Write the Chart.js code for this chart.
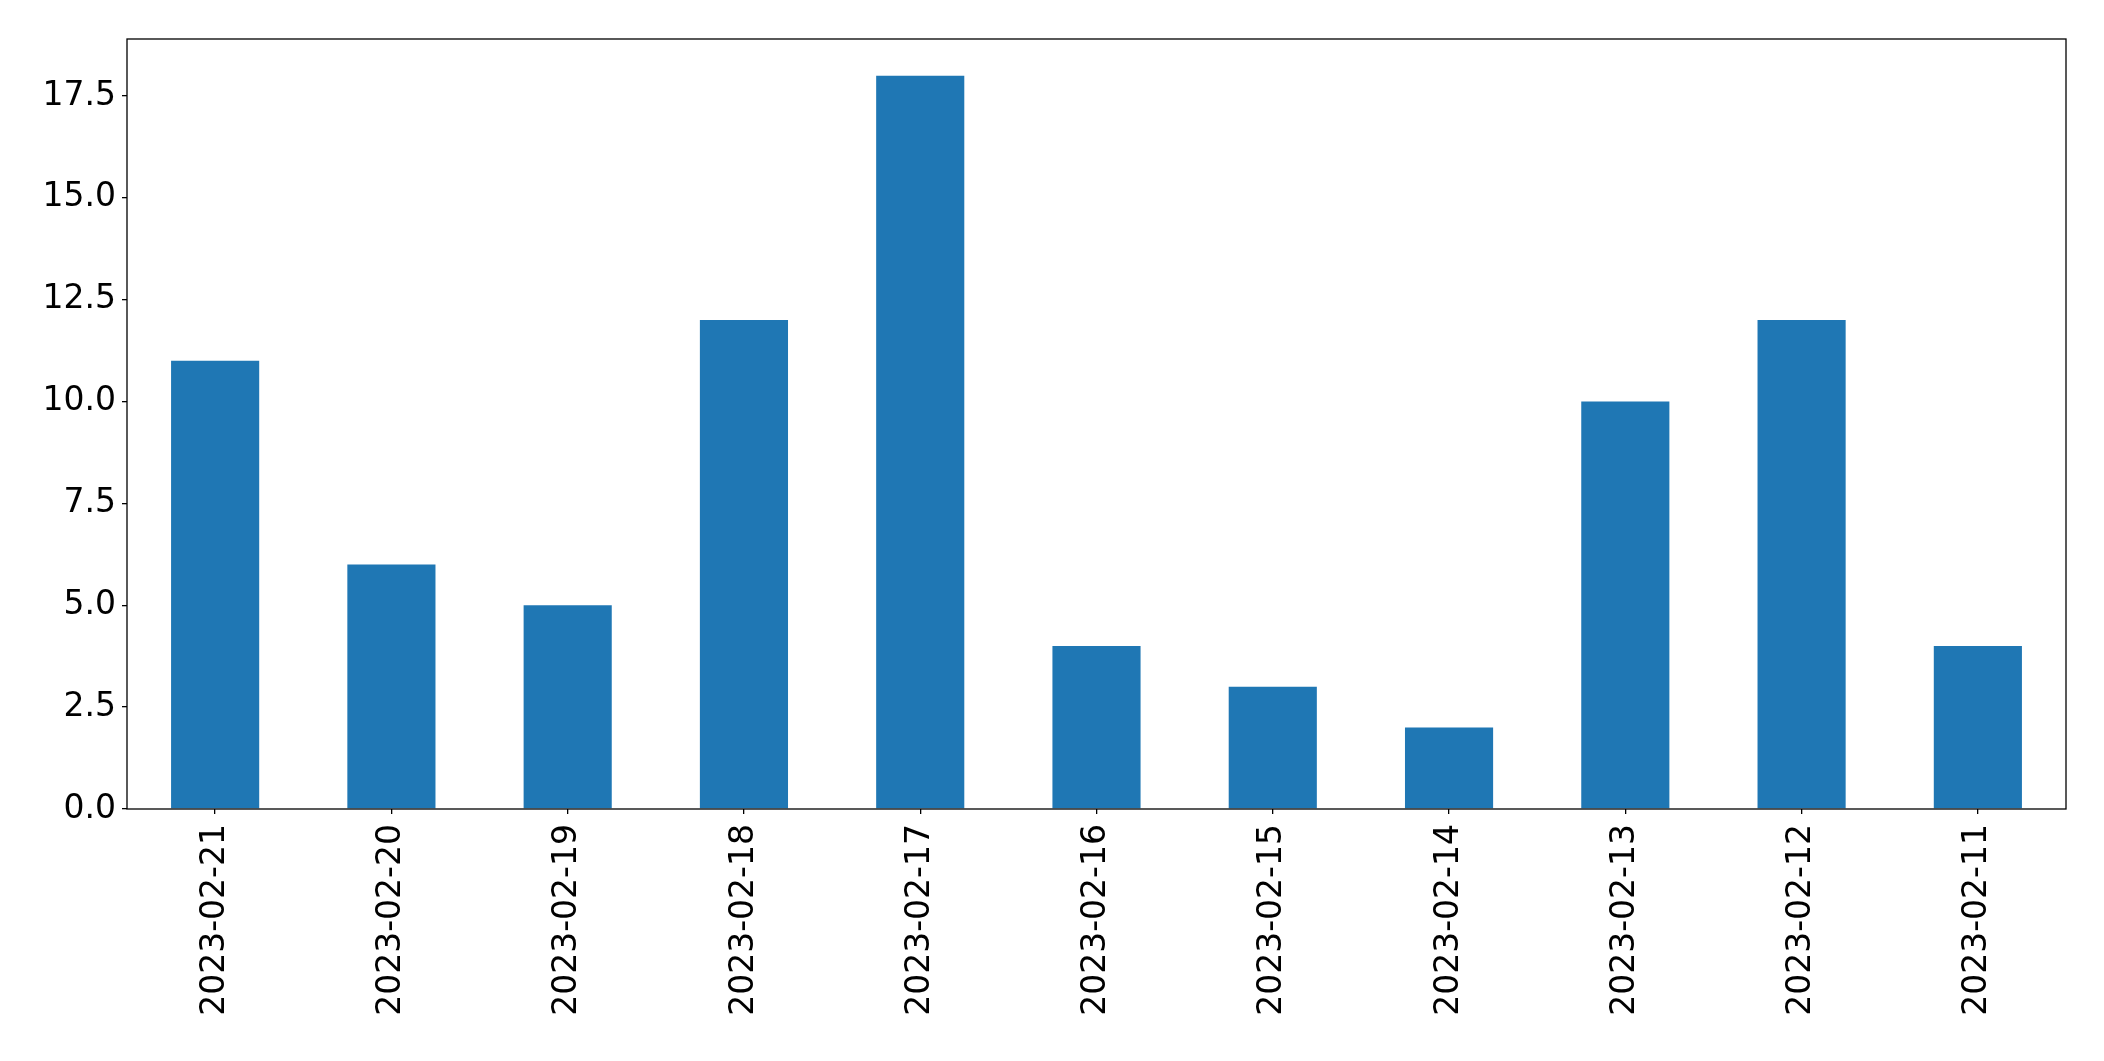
<!DOCTYPE html>
<html lang="en">
<head>
    <meta charset="UTF-8">
    <title>Daily counts</title>
    <script src="https://cdn.jsdelivr.net/npm/chart.js"></script>
    <style>
        html, body {
            margin: 0;
            padding: 0;
            background: #ffffff;
        }
        .chart-box {
            width: 2104px;
            height: 1061px;
        }
    </style>
</head>
<body>
    <div class="chart-box">
        <canvas id="barChart"></canvas>
    </div>

    <script>
        // Data
        const dates = ['2023-02-21', '2023-02-20', '2023-02-19', '2023-02-18', '2023-02-17',
            '2023-02-16', '2023-02-15', '2023-02-14', '2023-02-13', '2023-02-12', '2023-02-11'];
        const counts = [11, 6, 5, 12, 18, 4, 3, 2, 10, 12, 4];
        const yTicks = [0, 2.5, 5, 7.5, 10, 12.5, 15, 17.5];

        // Draw the frame round the plot area (matplotlib style box)
        const frameBox = {
            id: 'frameBox',
            afterDraw(chart) {
                const a = chart.chartArea;
                const ctx = chart.ctx;
                ctx.save();
                ctx.strokeStyle = '#000';
                ctx.lineWidth = 1.3;
                ctx.strokeRect(a.left, a.top, a.right - a.left, a.bottom - a.top);
                ctx.restore();
            }
        };

        Chart.defaults.font.family = 'DejaVu Sans';
        Chart.defaults.color = '#000';

        new Chart(document.getElementById('barChart'), {
            type: 'bar',
            data: {
                labels: dates,
                datasets: [{
                    data: counts,
                    backgroundColor: '#1f77b4',
                    barPercentage: 0.5,
                    categoryPercentage: 1.0
                }]
            },
            options: {
                responsive: true,
                maintainAspectRatio: false,
                animation: false,
                layout: {
                    padding: { top: 39, right: 38, left: 0, bottom: 0 }
                },
                plugins: {
                    legend: { display: false },
                    tooltip: { enabled: false }
                },
                scales: {
                    x: {
                        grid: { offset: false, drawOnChartArea: false, drawTicks: true, tickLength: 5, color: '#000', lineWidth: 1.3 },
                        border: { display: false },
                        ticks: {
                            font: { size: 33 },
                            minRotation: 90,
                            maxRotation: 90,
                            padding: 10,
                            autoSkip: false
                        },
                        afterFit(scale) { scale.height = 252; }
                    },
                    y: {
                        min: 0,
                        max: 18.9,
                        grid: { drawOnChartArea: false, drawTicks: true, tickLength: 5, color: '#000', lineWidth: 1.3 },
                        border: { display: false },
                        afterBuildTicks(scale) {
                            scale.ticks = yTicks.map(v => ({ value: v }));
                        },
                        ticks: {
                            font: { size: 33 },
                            padding: 6,
                            callback: v => Number(v).toFixed(1)
                        },
                        afterFit(scale) { scale.width = 127; }
                    }
                }
            },
            plugins: [frameBox]
        });
    </script>
</body>
</html>
